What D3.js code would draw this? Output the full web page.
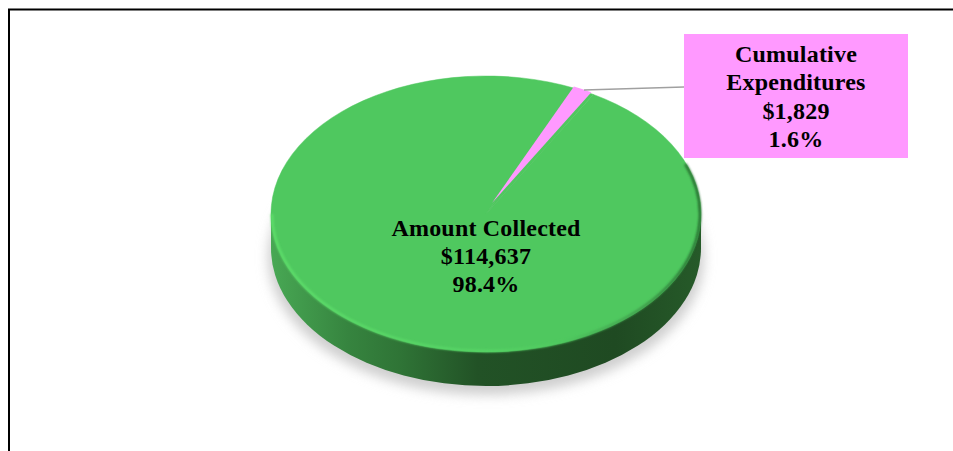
<!DOCTYPE html>
<html>
<head>
<meta charset="utf-8">
<script src="https://cdnjs.cloudflare.com/ajax/libs/d3/7.8.5/d3.min.js"></script>
<style>
  html, body { margin: 0; padding: 0; background: #fff; overflow: hidden; }
  text { font-family: "Liberation Serif", serif; font-weight: bold; fill: #000; }
</style>
</head>
<body>
<script>
// Data
const categories = ['Cumulative Expenditures', 'Amount Collected']
const amounts    = [1829, 114637]
const amountText = ['$1,829', '$114,637']
const pctText    = ['1.6%', '98.4%']

// Global variables
const width  = 953
const height = 451
const cx = 486, cy = 214
const rx = 215, ry = 138
const depth = 34
const squash = ry / rx
const rotation = 24.3 * Math.PI / 180

const svg = d3.select('body').append('svg')
  .attr('width', width)
  .attr('height', height)
  .style('display', 'block')

const defs = svg.append('defs')

// Side wall gradient
const sideGrad = defs.append('linearGradient')
  .attr('id', 'side')
  .attr('gradientUnits', 'userSpaceOnUse')
  .attr('x1', cx - rx).attr('x2', cx + rx).attr('y1', 0).attr('y2', 0)
const sideStops = [[0, '#48a854'], [0.18, '#36843f'], [0.3, '#2f7436'], [0.48, '#225226'], [0.8, '#1f4a22'], [1, '#265a29']]
sideGrad.selectAll('stop').data(sideStops).enter().append('stop')
  .attr('offset', d => d[0])
  .attr('stop-color', d => d[1])

// Bevel on the rim of the top face
const rimGrad = defs.append('linearGradient')
  .attr('id', 'rim')
  .attr('gradientUnits', 'userSpaceOnUse')
  .attr('x1', cx - rx).attr('x2', cx + rx).attr('y1', 0).attr('y2', 0)
const rimStops = [[0, '#5ede6b'], [0.5, '#58d666'], [0.68, '#4fc85f'], [0.86, '#3f9a4a'], [1, '#256b2e']]
rimGrad.selectAll('stop').data(rimStops).enter().append('stop')
  .attr('offset', d => d[0])
  .attr('stop-color', d => d[1])

const blur = defs.append('filter').attr('id', 'blur')
  .attr('x', '-20%').attr('y', '-20%').attr('width', '140%').attr('height', '140%')
blur.append('feGaussianBlur').attr('stdDeviation', 6)
const soft = defs.append('filter').attr('id', 'soft')
  .attr('filterUnits', 'userSpaceOnUse')
  .attr('x', 0).attr('y', 0).attr('width', width).attr('height', height)
soft.append('feGaussianBlur').attr('stdDeviation', 1)

// Clipped title bottoms and frame
svg.append('text').attr('x', 404).attr('y', -7).style('font-size', '19px').text('(')
svg.append('text').attr('x', 570).attr('y', -7).style('font-size', '19px').text(')')
svg.append('path')
  .attr('d', `M9,${height}V9.5H${width}`)
  .attr('fill', 'none')
  .attr('stroke', '#000')
  .attr('stroke-width', 2)

// Shadow under the pie
svg.append('ellipse')
  .attr('cx', cx).attr('cy', cy + depth + 9)
  .attr('rx', rx + 3).attr('ry', ry)
  .attr('fill', '#cfcfcf')
  .attr('filter', 'url(#blur)')

// Side wall
svg.append('path')
  .attr('d', `M${cx - rx},${cy}V${cy + depth}A${rx},${ry} 0 0 0 ${cx + rx},${cy + depth}V${cy}Z`)
  .attr('fill', 'url(#side)')

// Pie
const pie = d3.pie().sort(null)
  .startAngle(rotation)
  .endAngle(rotation + 2 * Math.PI)
const slices = pie(amounts)

const faceArc = d3.arc().innerRadius(0).outerRadius(rx)
const wedgeArc = d3.arc().innerRadius(0).outerRadius(199)

const pieTop = svg.append('g')

// Top face: wedge is laid over it from its own apex
pieTop.append('g')
  .attr('transform', `translate(${cx},${cy}) scale(1,${squash})`)
  .selectAll('path')
  .data(slices)
  .enter()
  .append('path')
  .attr('d', faceArc)
  .attr('fill', '#4fc85f')
  .attr('stroke', '#4fc85f')
  .attr('stroke-width', 0.6)

// Bevel along the lower rim, running up the right side a little
const rimEndY = cy - 50
const rimEndX = cx + (rx - 1) * Math.sqrt(1 - Math.pow(50 / (ry - 1), 2))
pieTop.append('path')
  .attr('d', `M${cx - rx + 1},${cy}A${rx - 1},${ry - 1} 0 1 0 ${rimEndX},${rimEndY}`)
  .attr('fill', 'none')
  .attr('stroke', 'url(#rim)')
  .attr('stroke-width', 2.5)
  .attr('filter', 'url(#soft)')

// Expenditures wedge
pieTop.append('g')
  .attr('transform', `translate(492,203) scale(1,${squash})`)
  .append('path')
  .attr('d', wedgeArc(slices[0]))
  .attr('fill', '#ff99ff')

// Leader line
svg.append('line')
  .attr('x1', 584).attr('y1', 90)
  .attr('x2', 684).attr('y2', 87)
  .attr('stroke', '#a0a0a0')
  .attr('stroke-width', 1.5)

// Callout box
svg.append('rect')
  .attr('x', 684).attr('y', 34)
  .attr('width', 224).attr('height', 124)
  .attr('fill', '#ff99ff')

const lines0 = ['Cumulative', 'Expenditures', amountText[0], pctText[0]]
svg.append('g').selectAll('text')
  .data(lines0)
  .enter()
  .append('text')
  .attr('x', 796)
  .attr('y', (d, i) => 62 + i * 28.3)
  .attr('text-anchor', 'middle')
  .style('font-size', '24px')
  .style('letter-spacing', '0.2px')
  .text(d => d)

const lines1 = [categories[1], amountText[1], pctText[1]]
svg.append('g').selectAll('text')
  .data(lines1)
  .enter()
  .append('text')
  .attr('x', 486)
  .attr('y', (d, i) => 236 + i * 28)
  .attr('text-anchor', 'middle')
  .style('font-size', '24px')
  .style('letter-spacing', '0.2px')
  .text(d => d)
</script>
</body>
</html>
